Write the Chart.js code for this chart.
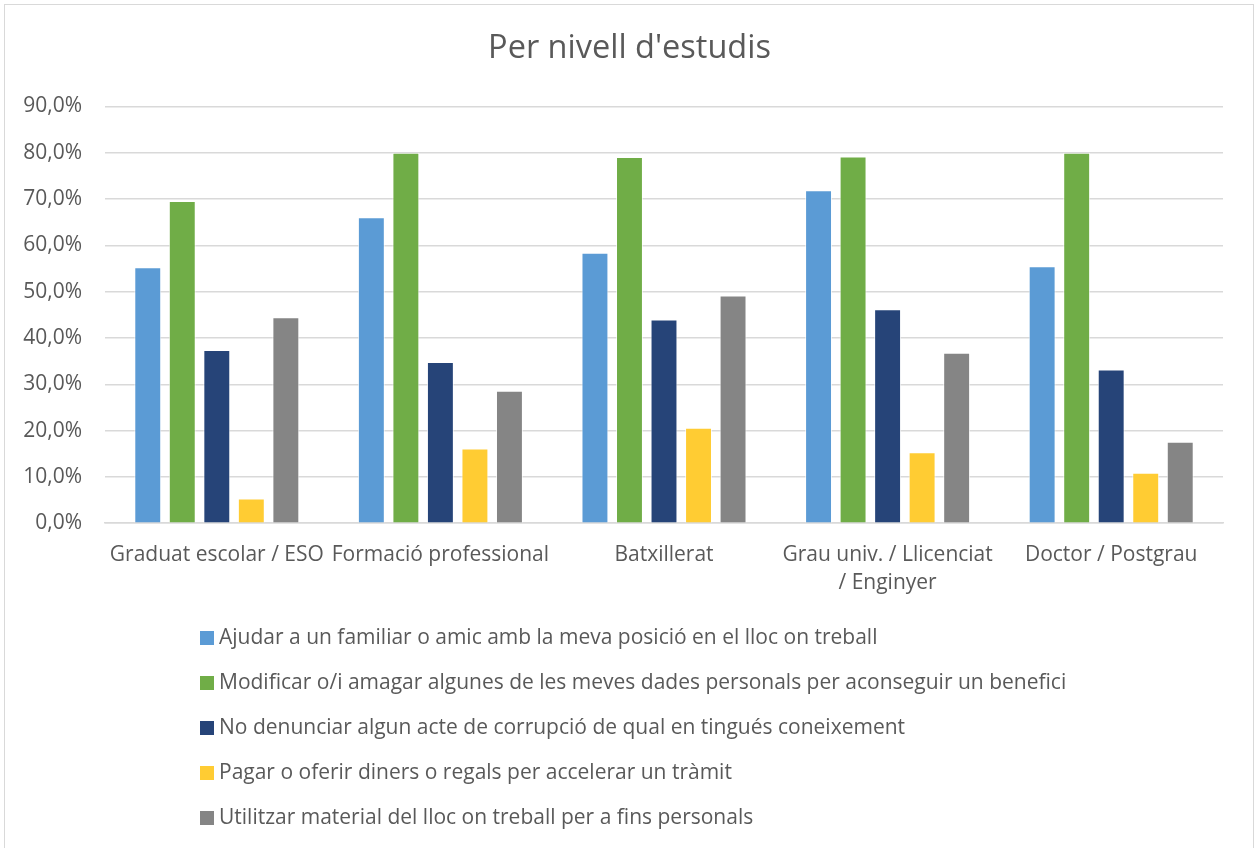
<!DOCTYPE html>
<html>
<head>
<meta charset="utf-8">
<script src="https://cdn.jsdelivr.net/npm/chart.js@4.4.1/dist/chart.umd.min.js"></script>
<style>
    html, body { margin: 0; padding: 0; background: #fff; overflow: hidden; }
    #frame {
        position: absolute; left: 4px; top: 4px;
        width: 1248px; height: 870px;
        border: 1px solid #d9d9d9;
    }
    #chart { position: absolute; left: 0; top: 0; }
</style>
</head>
<body>
<div id="frame"></div>
<canvas id="chart" width="1259" height="848"></canvas>
<script>
// Categories (nivell d'estudis)
const categories = [
    'Graduat escolar / ESO',
    'Formació professional',
    'Batxillerat',
    ['Grau univ. / Llicenciat', '/ Enginyer'],
    'Doctor / Postgrau'
];

// Series labels
const seriesNames = [
    'Ajudar a un familiar o amic amb la meva posició en el lloc on treball',
    'Modificar o/i amagar algunes de les meves dades personals per aconseguir un benefici',
    'No denunciar algun acte de corrupció de qual en tingués coneixement',
    'Pagar o oferir diners o regals per accelerar un tràmit',
    'Utilitzar material del lloc on treball per a fins personals'
];

// Series values (%)
const ajudarFamiliar = [55.3, 66.1, 58.4, 71.9, 55.5];
const modificarDades = [69.6, 80.0, 79.1, 79.2, 80.0];
const noDenunciar   = [37.4, 34.8, 44.0, 46.2, 33.2];
const pagarDiners   = [5.3, 16.1, 20.6, 15.3, 10.9];
const utilitzarMaterial = [44.5, 28.6, 49.2, 36.8, 17.6];

// Y axis ticks
const yTicks = [0, 10, 20, 30, 40, 50, 60, 70, 80, 90];

const chartTitle = "Per nivell d'estudis";

const seriesValues = [ajudarFamiliar, modificarDades, noDenunciar, pagarDiners, utilitzarMaterial];
const seriesColors = ['#5b9bd5', '#70ad47', '#264478', '#ffcc33', '#858585'];

const textColor = '#595959';
const fontFamily = '"Open Sans", "Noto Sans", sans-serif';

function formatPct(v) {
    return v.toFixed(1).replace('.', ',') + '%';
}

// Title centred on the whole canvas + vertical legend under the x axis
const decorations = {
    id: 'decorations',
    afterDraw(chart) {
        const ctx = chart.ctx;
        ctx.save();
        ctx.fillStyle = textColor;
        ctx.textAlign = 'center';
        ctx.textBaseline = 'middle';
        ctx.font = '32.5px ' + fontFamily;
        ctx.fillText(chartTitle, chart.width / 2, 49);

        const startY = chart.scales.x.bottom + 23;
        const rowGap = 45;
        const boxX = 200;
        ctx.font = '21px ' + fontFamily;
        ctx.textAlign = 'left';
        chart.data.datasets.forEach((ds, i) => {
            const y = startY + i * rowGap;
            ctx.fillStyle = ds.backgroundColor;
            ctx.fillRect(boxX, y - 7, 14, 14);
            ctx.fillStyle = textColor;
            ctx.fillText(ds.label, boxX + 19, y);
        });
        ctx.restore();
    }
};

const datasets = seriesNames.map((name, i) => ({
    label: name,
    data: seriesValues[i],
    backgroundColor: seriesColors[i],
    borderColor: 'rgba(255,255,255,0.7)',
    borderWidth: 1,
    categoryPercentage: 0.772,
    barPercentage: 0.78
}));

Chart.defaults.font.family = fontFamily;
Chart.defaults.color = textColor;

new Chart(document.getElementById('chart'), {
    type: 'bar',
    data: {
        labels: categories,
        datasets: datasets
    },
    options: {
        responsive: false,
        animation: false,
        devicePixelRatio: 1,
        layout: {
            padding: { left: 0, right: 36, top: 106.5, bottom: 233 }
        },
        plugins: {
            legend: { display: false },
            tooltip: { enabled: false },
            title: { display: false }
        },
        scales: {
            x: {
                grid: { display: false, drawTicks: false },
                border: { display: true, color: '#d9d9d9', width: 1.5 },
                ticks: {
                    color: textColor,
                    font: { size: 21, lineHeight: 1.33 },
                    padding: 18,
                    maxRotation: 0,
                    minRotation: 0,
                    autoSkip: false
                }
            },
            y: {
                min: 0,
                max: yTicks[yTicks.length - 1],
                afterBuildTicks(scale) {
                    scale.ticks = yTicks.map(v => ({ value: v }));
                },
                afterFit(scale) {
                    scale.width = 105;
                },
                grid: { color: '#d9d9d9', lineWidth: 1.5, drawTicks: false },
                border: { display: false },
                ticks: {
                    color: textColor,
                    font: { size: 21 },
                    padding: 23,
                    callback: (v) => formatPct(v)
                }
            }
        }
    },
    plugins: [decorations]
});
</script>
</body>
</html>
